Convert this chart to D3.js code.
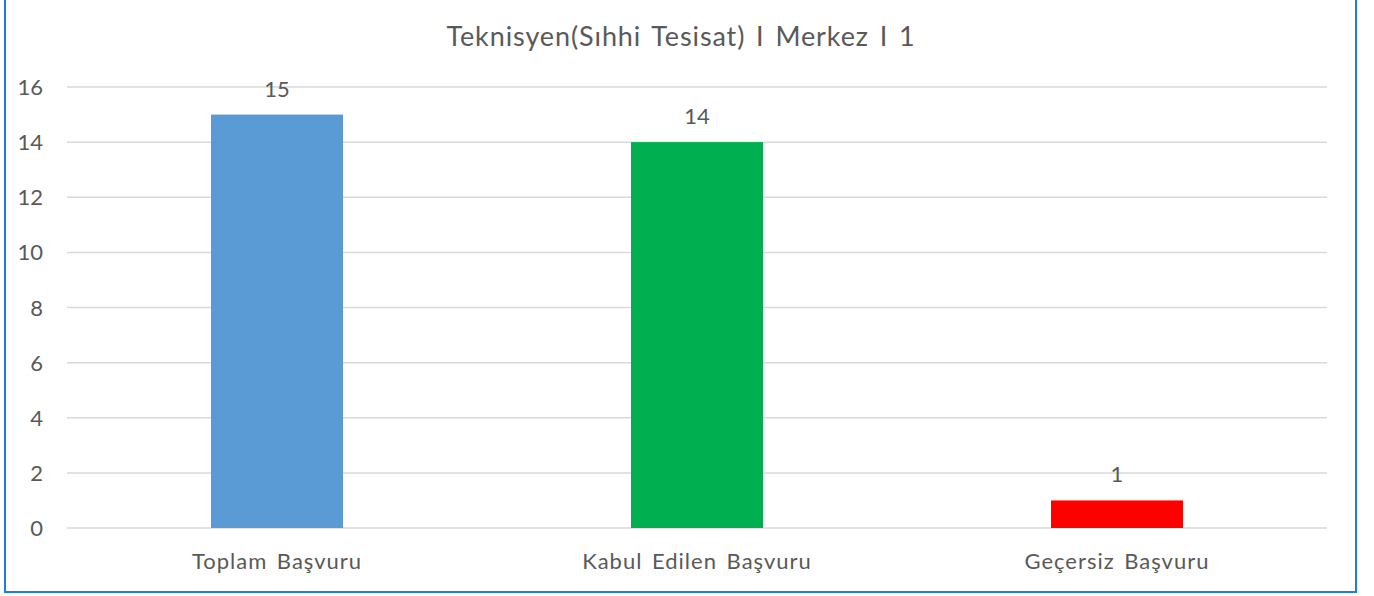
<!DOCTYPE html>
<html>
<head>
<meta charset="utf-8">
<script src="https://cdn.jsdelivr.net/npm/d3@7"></script>
<style>
    body { margin: 0; background: #fff; }
    svg { display: block; font-family: Lato, "Open Sans", sans-serif; }
</style>
</head>
<body>
<svg id="chart" width="1374" height="596"></svg>
<script>
var title = 'Teknisyen(Sıhhi Tesisat) I Merkez I 1';
var categories = ['Toplam Başvuru', 'Kabul Edilen Başvuru', 'Geçersiz Başvuru'];
var values = [15, 14, 1];
var barColours = ['#5B9BD5', '#00B050', '#FF0000'];
var yTicks = [0, 2, 4, 6, 8, 10, 12, 14, 16];

var svg = d3.select('#chart');
var textColour = '#595959';

// outer frame, top edge sits just above the window
svg.append('rect')
    .attr('x', 5).attr('y', -4)
    .attr('width', 1351).attr('height', 596)
    .attr('fill', 'none')
    .attr('stroke', '#1A7FD6')
    .attr('stroke-width', 2);

var x = d3.scaleBand().domain(categories).range([67, 1327]).paddingInner(0).paddingOuter(0);
var y = d3.scaleLinear().domain([0, 16]).range([528, 87]);
var barWidth = 132;

svg.append('text')
    .attr('x', 681).attr('y', 46)
    .attr('text-anchor', 'middle')
    .attr('fill', textColour)
    .attr('font-size', 27)
    .attr('letter-spacing', 0.9)
    .attr('word-spacing', 3)
    .text(title);

// gridlines
svg.append('g').selectAll('line')
    .data(yTicks)
    .join('line')
    .attr('x1', 67).attr('x2', 1327)
    .attr('y1', function (d) { return y(d); })
    .attr('y2', function (d) { return y(d); })
    .attr('stroke', '#D9D9D9')
    .attr('stroke-width', 1.5);

// y tick labels
svg.append('g').selectAll('text')
    .data(yTicks)
    .join('text')
    .attr('x', 43)
    .attr('y', function (d) { return y(d) + 8; })
    .attr('text-anchor', 'end')
    .attr('fill', textColour)
    .attr('font-size', 22)
    .text(function (d) { return d; });

// bars
svg.append('g').selectAll('rect')
    .data(values)
    .join('rect')
    .attr('x', function (d, i) { return x(categories[i]) + x.bandwidth() / 2 - barWidth / 2; })
    .attr('y', function (d) { return y(d); })
    .attr('width', barWidth)
    .attr('height', function (d) { return y(0) - y(d); })
    .attr('fill', function (d, i) { return barColours[i]; });

// value labels
svg.append('g').selectAll('text')
    .data(values)
    .join('text')
    .attr('x', function (d, i) { return x(categories[i]) + x.bandwidth() / 2; })
    .attr('y', function (d) { return y(d) - 18; })
    .attr('text-anchor', 'middle')
    .attr('fill', textColour)
    .attr('font-size', 22)
    .text(function (d) { return d; });

// category labels
svg.append('g').selectAll('text')
    .data(categories)
    .join('text')
    .attr('x', function (d) { return x(d) + x.bandwidth() / 2; })
    .attr('y', 569)
    .attr('text-anchor', 'middle')
    .attr('fill', textColour)
    .attr('font-size', 22)
    .attr('letter-spacing', 1)
    .attr('word-spacing', 3)
    .text(function (d) { return d; });
</script>
</body>
</html>
